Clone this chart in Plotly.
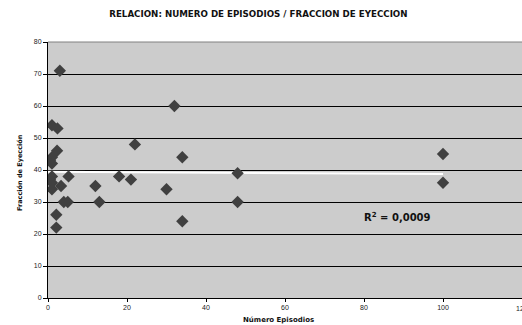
import numpy as np
import plotly.graph_objects as go

# Data
episodios = [3, 32, 1, 2.4, 22, 2.3, 34, 1, 0.5, 1, 1, 1, 1, 0.5, 3.3, 5.2, 12, 18, 21, 30,
             4, 5, 13, 34, 2.1, 2.1, 48, 48, 100, 100]
fraccion = [71, 60, 54, 53, 48, 46, 44, 44, 43, 42, 38, 36, 34, 37, 35, 38, 35, 38, 37, 34,
            30, 30, 30, 24, 26, 22, 39, 30, 45, 36]

x_ticks = [0, 20, 40, 60, 80, 100, 120]
y_ticks = [0, 10, 20, 30, 40, 50, 60, 70, 80]

title_text = "RELACION: NUMERO DE EPISODIOS / FRACCION DE EYECCION"
x_title = "Número Episodios"
y_title = "Fracción de Eyección"
r2_text = "R<sup>2</sup> = 0,0009"

# Linear trend line from the data
xa = np.array(episodios, dtype=float)
ya = np.array(fraccion, dtype=float)
slope, intercept = np.polyfit(xa, ya, 1)
trend_x = [0, max(episodios)]
trend_y = [intercept + slope * v for v in trend_x]

fig = go.Figure()
fig.add_trace(go.Scatter(
    x=trend_x, y=trend_y, mode="lines",
    line=dict(color="white", width=2), hoverinfo="skip", showlegend=False))
fig.add_trace(go.Scatter(
    x=episodios, y=fraccion, mode="markers",
    marker=dict(symbol="diamond", size=9.5, color="#404040", line=dict(width=0)),
    showlegend=False))

font_family = "Liberation Sans, Arial, sans-serif"
wide_family = "DejaVu Sans, Verdana, sans-serif"

# last tick label sits on the clipped right edge; drawn as an annotation
last_tick = x_ticks[-1]

fig.update_layout(
    width=522, height=325,
    margin=dict(l=48, r=0, t=42, b=27),
    paper_bgcolor="white",
    plot_bgcolor="#CCCCCC",
    font=dict(family=font_family, size=7, color="#222222"),
    title=dict(text="<b>" + title_text + "</b>", x=0.495, xanchor="center",
               y=1 - 14 / 325, yanchor="middle",
               font=dict(size=8.7, color="#111111", family=wide_family)),
    xaxis=dict(range=[0, 120], tickvals=x_ticks[:-1], showgrid=False, zeroline=False,
               showline=True, linecolor="black", linewidth=1,
               ticks="outside", ticklen=3, tickcolor="black",
               tickfont=dict(size=7, color="#222222")),
    yaxis=dict(range=[0, 80], tickvals=y_ticks, showgrid=True, gridcolor="black",
               gridwidth=1, zeroline=False,
               showline=True, linecolor="black", linewidth=1,
               ticks="outside", ticklen=4, tickcolor="black",
               tickfont=dict(size=7, color="#222222")),
    shapes=[dict(type="line", xref="paper", yref="paper", x0=0, x1=1, y0=1, y1=1,
                 line=dict(color="#808080", width=1), layer="above")],
    annotations=[
        dict(text=str(last_tick), xref="x", yref="paper",
             x=last_tick, y=-(308 - 298) / 256, xanchor="center", yanchor="middle",
             showarrow=False, font=dict(size=7, color="#222222")),
        dict(text="<b>" + x_title + "</b>", xref="paper", yref="paper",
             x=(278 - 48) / 474, y=-(320 - 298) / 256, xanchor="center", yanchor="middle",
             showarrow=False, font=dict(size=7, color="#111111", family=wide_family)),
        dict(text="<b>" + y_title + "</b>", xref="paper", yref="paper",
             x=-(48 - 20) / 474, y=(298 - 173) / 256, xanchor="center", yanchor="middle",
             textangle=-90, showarrow=False,
             font=dict(size=6.5, color="#111111", family=wide_family)),
        dict(text="<b>" + r2_text + "</b>", xref="paper", yref="paper",
             x=(362 - 48) / 474, y=(298 - 217) / 256, xanchor="left", yanchor="middle",
             showarrow=False, font=dict(size=10, color="#111111", family=wide_family)),
    ],
)

fig.write_html("out.html")
